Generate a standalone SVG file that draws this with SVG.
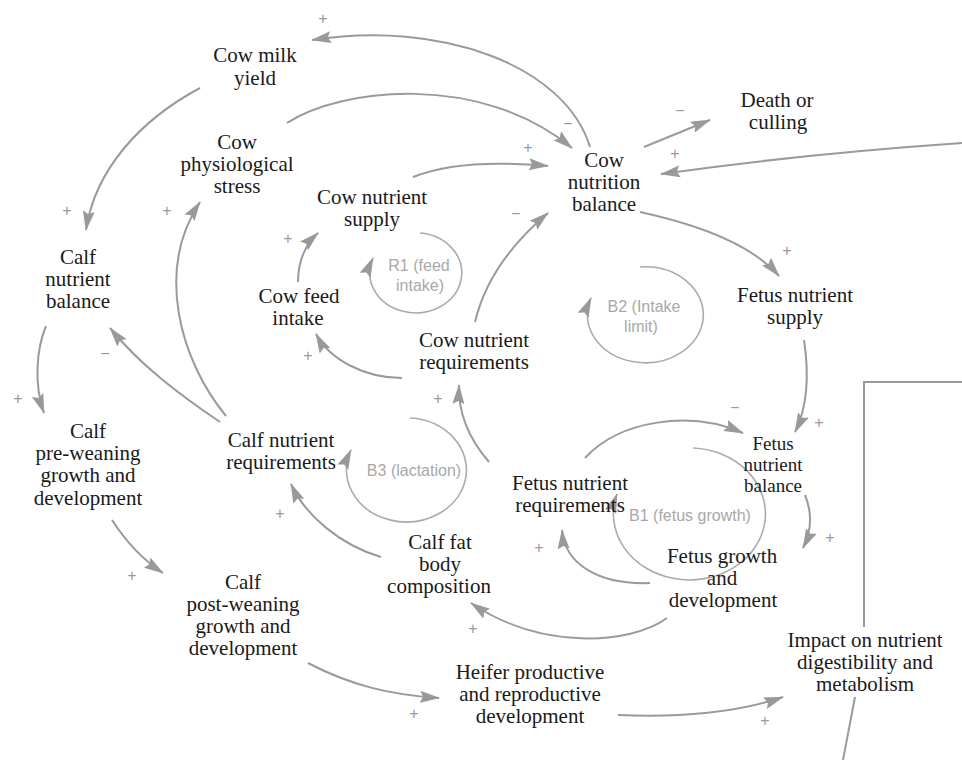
<svg xmlns="http://www.w3.org/2000/svg" width="962" height="760" viewBox="0 0 962 760">
<style>
.n{font-family:"Liberation Serif","Times New Roman",serif;font-size:21px;fill:#1a1a1a;text-anchor:middle}
.s{font-size:19px}
.lp{font-family:"Liberation Sans",Arial,sans-serif;font-size:16px;fill:#a8a8a8;text-anchor:middle}
.p{font-family:"Liberation Sans",Arial,sans-serif;font-size:16px;fill:#9a9a9a;text-anchor:middle;dominant-baseline:central}
.c{fill:none;stroke:#9a9a9a;stroke-width:2;marker-end:url(#ah)}
.l{fill:none;stroke:#aaaaaa;stroke-width:1.6;marker-end:url(#ah)}
.b{fill:none;stroke:#9a9a9a;stroke-width:2}
</style>
<defs>
<marker id="ah" markerUnits="userSpaceOnUse" markerWidth="20" markerHeight="14" viewBox="0 0 20 14" refX="19" refY="7" orient="auto">
<path d="M0,1 L20,7 L0,13 L3,7 z" fill="#999"/>
</marker>
</defs>
<rect width="962" height="760" fill="#fff"/>
<g id="connectors">
<path class="c" d="M590,147 C565,65 440,20 312,40"/>
<path class="c" d="M287,123 C340,88 480,72 572,148"/>
<path class="c" d="M413,177 Q460,158 548,166"/>
<path class="c" d="M644,147 L710,120"/>
<path class="c" d="M962,143 C860,150 760,160 661,174"/>
<path class="c" d="M640,212 C700,225 752,245 779,276"/>
<path class="c" d="M804,340 C810,380 806,410 795,432"/>
<path class="c" d="M805,495 Q816,522 803,548"/>
<path class="c" d="M585,458 C620,420 690,410 743,433"/>
<path class="c" d="M650,583 C600,585 565,565 562,530"/>
<path class="c" d="M667,618 C630,645 540,650 471,603"/>
<path class="c" d="M381,557 C340,545 305,515 291,484"/>
<path class="c" d="M489,462 C470,440 458,415 459,385"/>
<path class="c" d="M475,322 C485,280 510,245 548,213"/>
<path class="c" d="M402,378 C365,378 330,360 316,334"/>
<path class="c" d="M298,282 C298,262 305,245 318,233"/>
<path class="c" d="M200,88 C140,120 95,170 86,230"/>
<path class="c" d="M226,416 C180,360 155,270 200,202"/>
<path class="c" d="M220,422 C180,395 140,365 110,328"/>
<path class="c" d="M46,326 C36,350 34,385 44,413"/>
<path class="c" d="M112,520 C125,540 140,558 163,573"/>
<path class="c" d="M308,663 C350,685 390,695 439,698"/>
<path class="c" d="M618,715 C680,718 740,712 783,697"/>
<path class="b" d="M962,382 H864 V627"/>
<path class="b" d="M855,697 L843,760"/>
<path class="l" d="M420,233 A46 40 0 1 1 373,258"/>
<path class="l" d="M640,267 A58 48 0 1 1 591,298"/>
<path class="l" d="M410,418 A60 52 0 1 1 351,450"/>
<path class="l" d="M693,448 A76 66 0 1 1 617,494"/>
</g>
<g id="polarity">
<text class="p" x="323" y="18">+</text>
<text class="p" x="568" y="123">−</text>
<text class="p" x="528" y="147">+</text>
<text class="p" x="680" y="110">−</text>
<text class="p" x="675" y="153">+</text>
<text class="p" x="787" y="250">+</text>
<text class="p" x="67" y="210">+</text>
<text class="p" x="167" y="210">+</text>
<text class="p" x="288" y="238">+</text>
<text class="p" x="516" y="213">−</text>
<text class="p" x="308" y="355">+</text>
<text class="p" x="105" y="353">−</text>
<text class="p" x="18" y="398">+</text>
<text class="p" x="438" y="398">+</text>
<text class="p" x="735" y="407">−</text>
<text class="p" x="819" y="422">+</text>
<text class="p" x="280" y="513">+</text>
<text class="p" x="539" y="547">+</text>
<text class="p" x="830" y="537">+</text>
<text class="p" x="473" y="628">+</text>
<text class="p" x="132" y="575">+</text>
<text class="p" x="414" y="713">+</text>
<text class="p" x="765" y="720">+</text>
</g>
<g id="loop-R1"><text class="lp" x="419" y="271">R1 (feed</text><text class="lp" x="420" y="291">intake)</text></g>
<g id="loop-B2"><text class="lp" x="644" y="312">B2 (Intake</text><text class="lp" x="641" y="332">limit)</text></g>
<g id="loop-B3"><text class="lp" x="414" y="476">B3 (lactation)</text></g>
<g id="loop-B1"><text class="lp" x="690" y="521">B1 (fetus growth)</text></g>
<g id="cow-milk-yield"><text class="n" x="255" y="62">Cow milk</text><text class="n" x="255" y="85">yield</text></g>
<g id="cow-physiological-stress"><text class="n" x="237" y="149">Cow</text><text class="n" x="237" y="171">physiological</text><text class="n" x="237" y="193">stress</text></g>
<g id="cow-nutrient-supply"><text class="n" x="372" y="204">Cow nutrient</text><text class="n" x="372" y="226">supply</text></g>
<g id="cow-feed-intake"><text class="n" x="299" y="303">Cow feed</text><text class="n" x="298" y="325">intake</text></g>
<g id="cow-nutrition-balance"><text class="n" x="604" y="167">Cow</text><text class="n" x="604" y="189">nutrition</text><text class="n" x="604" y="211">balance</text></g>
<g id="death-or-culling"><text class="n" x="777" y="107">Death or</text><text class="n" x="778" y="129">culling</text></g>
<g id="fetus-nutrient-supply"><text class="n" x="795" y="302">Fetus nutrient</text><text class="n" x="795" y="324">supply</text></g>
<g id="calf-nutrient-balance"><text class="n" x="78" y="264">Calf</text><text class="n" x="78" y="286">nutrient</text><text class="n" x="78" y="308">balance</text></g>
<g id="cow-nutrient-requirements"><text class="n" x="474" y="347">Cow nutrient</text><text class="n" x="474" y="369">requirements</text></g>
<g id="calf-pre-weaning"><text class="n" x="88" y="438">Calf</text><text class="n" x="88" y="460">pre-weaning</text><text class="n" x="88" y="482">growth and</text><text class="n" x="88" y="505">development</text></g>
<g id="calf-nutrient-requirements"><text class="n" x="281" y="447">Calf nutrient</text><text class="n" x="281" y="469">requirements</text></g>
<g id="fetus-nutrient-requirements"><text class="n" x="570" y="490">Fetus nutrient</text><text class="n" x="570" y="512">requirements</text></g>
<g id="fetus-nutrient-balance"><text class="n s" x="773" y="450">Fetus</text><text class="n s" x="773" y="471">nutrient</text><text class="n s" x="773" y="492">balance</text></g>
<g id="fetus-growth"><text class="n" x="722" y="563">Fetus growth</text><text class="n" x="722" y="585">and</text><text class="n" x="723" y="607">development</text></g>
<g id="calf-fat"><text class="n" x="440" y="549">Calf fat</text><text class="n" x="440" y="571">body</text><text class="n" x="439" y="593">composition</text></g>
<g id="calf-post-weaning"><text class="n" x="243" y="589">Calf</text><text class="n" x="243" y="611">post-weaning</text><text class="n" x="243" y="633">growth and</text><text class="n" x="243" y="655">development</text></g>
<g id="heifer"><text class="n" x="530" y="679">Heifer productive</text><text class="n" x="530" y="701">and reproductive</text><text class="n" x="530" y="723">development</text></g>
<g id="impact"><text class="n" x="865" y="647">Impact on nutrient</text><text class="n" x="865" y="669">digestibility and</text><text class="n" x="865" y="691">metabolism</text></g>
</svg>
